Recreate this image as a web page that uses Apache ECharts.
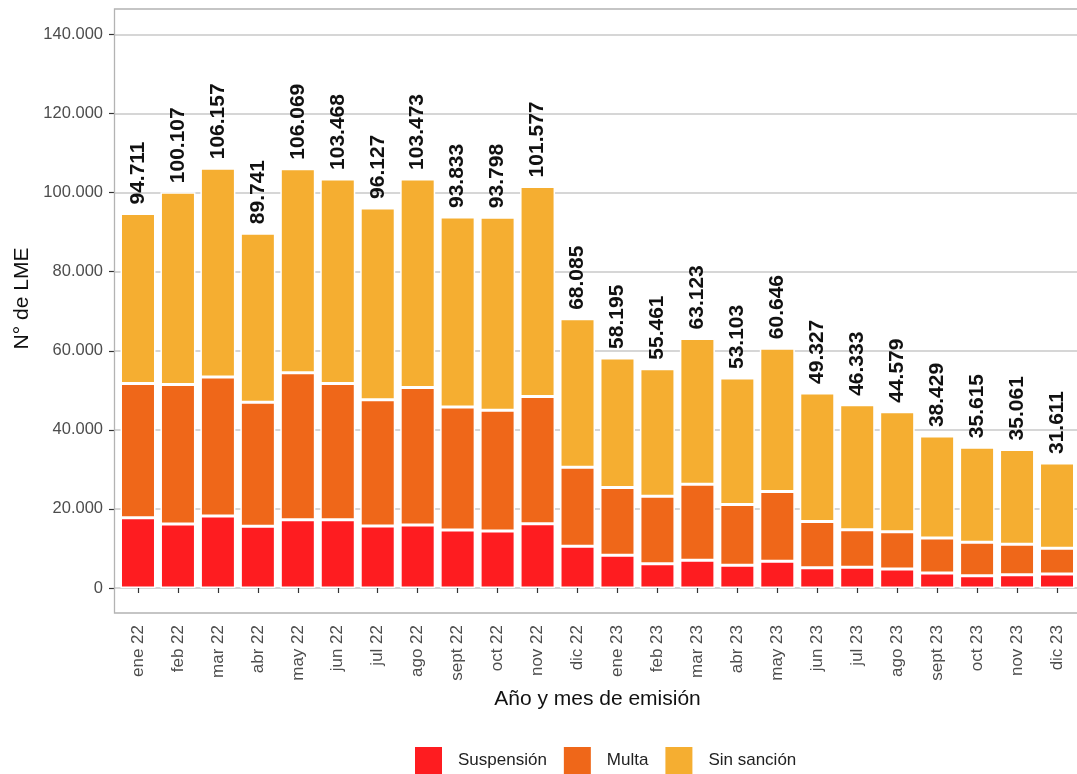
<!DOCTYPE html>
<html>
<head>
<meta charset="utf-8">
<script src="https://cdn.jsdelivr.net/npm/echarts@6/dist/echarts.min.js"></script>
<style>
html,body{margin:0;padding:0;background:#fff;}
#chart{width:1077px;height:774px;}
</style>
</head>
<body>
<div id="chart"></div>
<script>
const categories = ['ene 22','feb 22','mar 22','abr 22','may 22','jun 22','jul 22','ago 22','sept 22','oct 22','nov 22','dic 22',
  'ene 23','feb 23','mar 23','abr 23','may 23','jun 23','jul 23','ago 23','sept 23','oct 23','nov 23','dic 23'];
const suspension = [17800,16200,18230,15620,17290,17290,15700,15950,14680,14430,16280,10560,
  8280,6150,7010,5750,6760,5140,5240,4810,3800,3110,3370,3540];
const multa = [33900,35270,35110,31390,37140,34430,31890,34760,31070,30560,32150,20000,
  17110,17070,19240,15340,17620,11650,9520,9440,8860,8460,7690,6510];
const sinSancion = [43011,48637,52817,42731,51639,51748,48537,52763,48083,48808,53147,37525,
  32805,32241,36873,32013,36266,32537,31573,30329,25769,24045,24001,21561];
const yTicks = [0,20000,40000,60000,80000,100000,120000,140000];

const colors = {susp:'#FE1C20', multa:'#EF6719', sin:'#F5AE31'};
const FONT = 'Liberation Sans, Arial, sans-serif';
const fmt = n => String(Math.round(n)).replace(/\B(?=(\d{3})+(?!\d))/g, '.');
const Y_MAX = 146450;

const chart = echarts.init(document.getElementById('chart'), null, {renderer:'canvas'});
const barStyle = c => ({color:c, borderColor:'#ffffff', borderWidth:1.5});

chart.setOption({
  animation:false,
  backgroundColor:'#ffffff',
  textStyle:{fontFamily:FONT},
  grid:[
    {left:114, width:968, top:9, bottom:186, show:false},
    {left:118, width:960, top:9, bottom:186, show:false}
  ],
  xAxis:[
    {type:'value', gridIndex:0, min:0, max:1, show:false},
    {type:'category', gridIndex:1, data:categories, offset:25,
     axisLine:{show:false},
     axisTick:{show:true, alignWithLabel:true, length:5, lineStyle:{color:'#333333', width:1.2}},
     axisLabel:{rotate:90, margin:12, color:'#4d4d4d', fontSize:17, fontFamily:FONT, interval:0},
     name:'Año y mes de emisión', nameLocation:'middle', nameGap:71,
     nameTextStyle:{fontSize:21, color:'#111111', fontFamily:FONT}
    }
  ],
  yAxis:[
    {type:'value', gridIndex:0, min:0, max:Y_MAX, interval:20000,
     axisLine:{show:false},
     axisTick:{show:true, length:5, lineStyle:{color:'#333333', width:1.2}, customValues:yTicks},
     axisLabel:{color:'#4d4d4d', fontSize:16.5, fontFamily:FONT, margin:11, customValues:yTicks,
       formatter:v => fmt(v)},
     splitLine:{show:true, lineStyle:{color:'#c8c8c8', width:1.5}},
     name:'N° de LME', nameLocation:'middle', nameGap:81, nameRotate:90,
     nameTextStyle:{fontSize:21, color:'#111111', fontFamily:FONT}
    },
    {type:'value', gridIndex:1, min:0, max:Y_MAX, show:false, splitLine:{show:false}}
  ],
  legend:{
    left:413, top:745, padding:0, itemWidth:29, itemHeight:29, itemGap:15,
    icon:'rect',
    data:['Suspensión','Multa','Sin sanción'],
    formatter: name => '{a|' + name + '}',
    textStyle:{fontSize:17, color:'#222222', fontFamily:FONT,
      rich:{a:{fontSize:17, color:'#222222', fontFamily:FONT, padding:[0,0,0,10]}}}
  },
  graphic:[{
    type:'rect', z:100, silent:true,
    shape:{x:114.5, y:9, width:967, height:604},
    style:{fill:'none', stroke:'#b3b3b3', lineWidth:1.3}
  }],
  series:[
    {name:'Suspensión', type:'bar', stack:'a', xAxisIndex:1, yAxisIndex:1, barWidth:35,
     itemStyle:barStyle(colors.susp), data:suspension},
    {name:'Multa', type:'bar', stack:'a', xAxisIndex:1, yAxisIndex:1, barWidth:35,
     itemStyle:barStyle(colors.multa), data:multa},
    {name:'Sin sanción', type:'bar', stack:'a', xAxisIndex:1, yAxisIndex:1, barWidth:35,
     itemStyle:barStyle(colors.sin), data:sinSancion,
     label:{show:true, position:'top', rotate:90, align:'left', verticalAlign:'middle', distance:9,
       fontSize:21, fontWeight:'bold', color:'#111111', fontFamily:FONT,
       formatter:p => fmt(suspension[p.dataIndex] + multa[p.dataIndex] + sinSancion[p.dataIndex])}}
  ]
});
</script>
</body>
</html>
